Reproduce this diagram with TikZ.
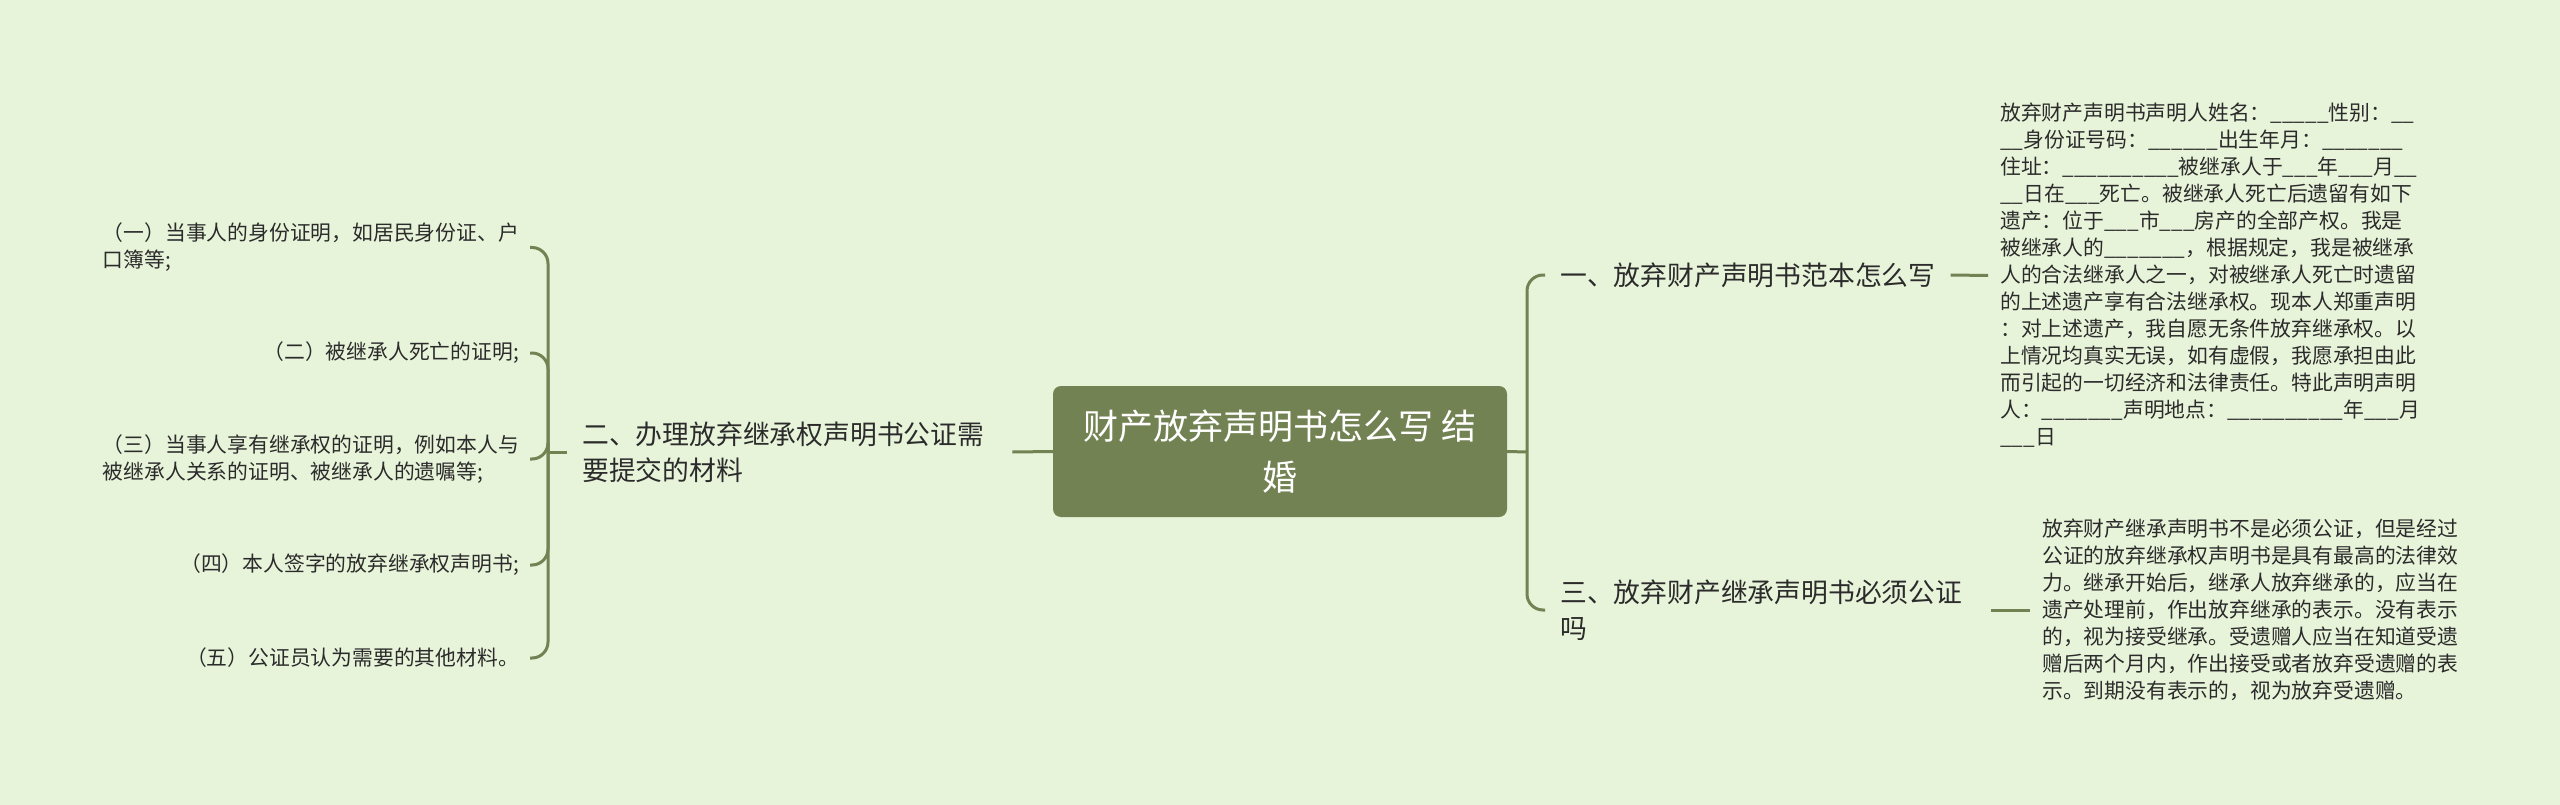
\documentclass[tikz,border=0pt]{standalone}
\usepackage{fontspec}
\setmainfont{Noto Sans CJK SC}
\definecolor{bg}{HTML}{E8F4DA}
\definecolor{mainc}{HTML}{738253}
\definecolor{txt}{HTML}{2B2B2B}
\begin{document}
\begin{tikzpicture}[x=1pt,y=-1pt,
  link/.style={draw=mainc,line width=3pt,rounded corners=16pt},
  leaf/.style={inner sep=0pt,align=left,text=txt,font=\fontsize{20.8}{27}\selectfont},
  topic/.style={inner sep=0pt,align=left,text=txt,font=\fontsize{26.8}{36}\selectfont},
  rootbox/.style={fill=mainc,rounded corners=8pt,text=white,align=center,font=\fontsize{35}{51}\selectfont,minimum width=454pt,minimum height=131pt,inner sep=0pt}]
\fill[bg] (0,0) rectangle (2560,805);
\useasboundingbox (0,0) rectangle (2560,805);

\node[rootbox] (root) at (1280,451.5) {财产放弃声明书怎么写 结\\婚};

\node[topic,anchor=west] (t2) at (582,452) {二、办理放弃继承权声明书公证需\\要提交的材料};
\node[topic,anchor=west] (t1) at (1560,275) {一、放弃财产声明书范本怎么写};
\node[topic,anchor=west] (t3) at (1560,610) {三、放弃财产继承声明书必须公证\\吗};

\node[leaf,anchor=east] (a1) at (519,247.5) {（一）当事人的身份证明，如居民身份证、户\\口簿等;};
\node[leaf,anchor=east] (a2) at (519,353) {（二）被继承人死亡的证明;};
\node[leaf,anchor=east] (a3) at (519,459) {（三）当事人享有继承权的证明，例如本人与\\被继承人关系的证明、被继承人的遗嘱等;};
\node[leaf,anchor=east] (a4) at (519,565) {（四）本人签字的放弃继承权声明书;};
\node[leaf,anchor=east] (a5) at (519,658) {（五）公证员认为需要的其他材料。};

\node[leaf,anchor=west] (d1) at (2000,275.5) {放弃财产声明书声明人姓名：\_\_\_\_\_性别：\_\_\\
\_\_身份证号码：\_\_\_\_\_\_出生年月：\_\_\_\_\_\_\_\\
住址：\_\_\_\_\_\_\_\_\_\_被继承人于\_\_\_年\_\_\_月\_\_\\
\_\_日在\_\_\_死亡。被继承人死亡后遗留有如下\\
遗产：位于\_\_\_市\_\_\_房产的全部产权。我是\\
被继承人的\_\_\_\_\_\_\_，根据规定，我是被继承\\
人的合法继承人之一，对被继承人死亡时遗留\\
的上述遗产享有合法继承权。现本人郑重声明\\
：对上述遗产，我自愿无条件放弃继承权。以\\
上情况均真实无误，如有虚假，我愿承担由此\\
而引起的一切经济和法律责任。特此声明声明\\
人：\_\_\_\_\_\_\_声明地点：\_\_\_\_\_\_\_\_\_\_年\_\_\_月\\
\_\_\_日};

\node[leaf,anchor=west] (d3) at (2042,610) {放弃财产继承声明书不是必须公证，但是经过\\
公证的放弃继承权声明书是具有最高的法律效\\
力。继承开始后，继承人放弃继承的，应当在\\
遗产处理前，作出放弃继承的表示。没有表示\\
的，视为接受继承。受遗赠人应当在知道受遗\\
赠后两个月内，作出接受或者放弃受遗赠的表\\
示。到期没有表示的，视为放弃受遗赠。};

\coordinate (lc) at (548,452);
\coordinate (rc) at (1527,452);

\draw[link] (root.west) -- ([xshift=28pt]t2.east);
\draw[link] ([xshift=-15pt]t2.west) -- (lc);
\draw[link] (lc) |- ([xshift=11pt]a1.east);
\draw[link] (lc) |- ([xshift=11pt]a2.east);
\draw[link] (lc) |- ([xshift=11pt]a3.east);
\draw[link] (lc) |- ([xshift=11pt]a4.east);
\draw[link] (lc) |- ([xshift=11pt]a5.east);

\draw[link] (root.east) -- (rc);
\draw[link] (rc) |- ([xshift=-15pt]t1.west);
\draw[link] (rc) |- ([xshift=-15pt]t3.west);
\draw[link] ([xshift=15pt]t1.east) -- ([xshift=-12pt]d1.west);
\draw[link] ([xshift=29pt]t3.east) -- ([xshift=-12pt]d3.west);
\end{tikzpicture}
\end{document}
